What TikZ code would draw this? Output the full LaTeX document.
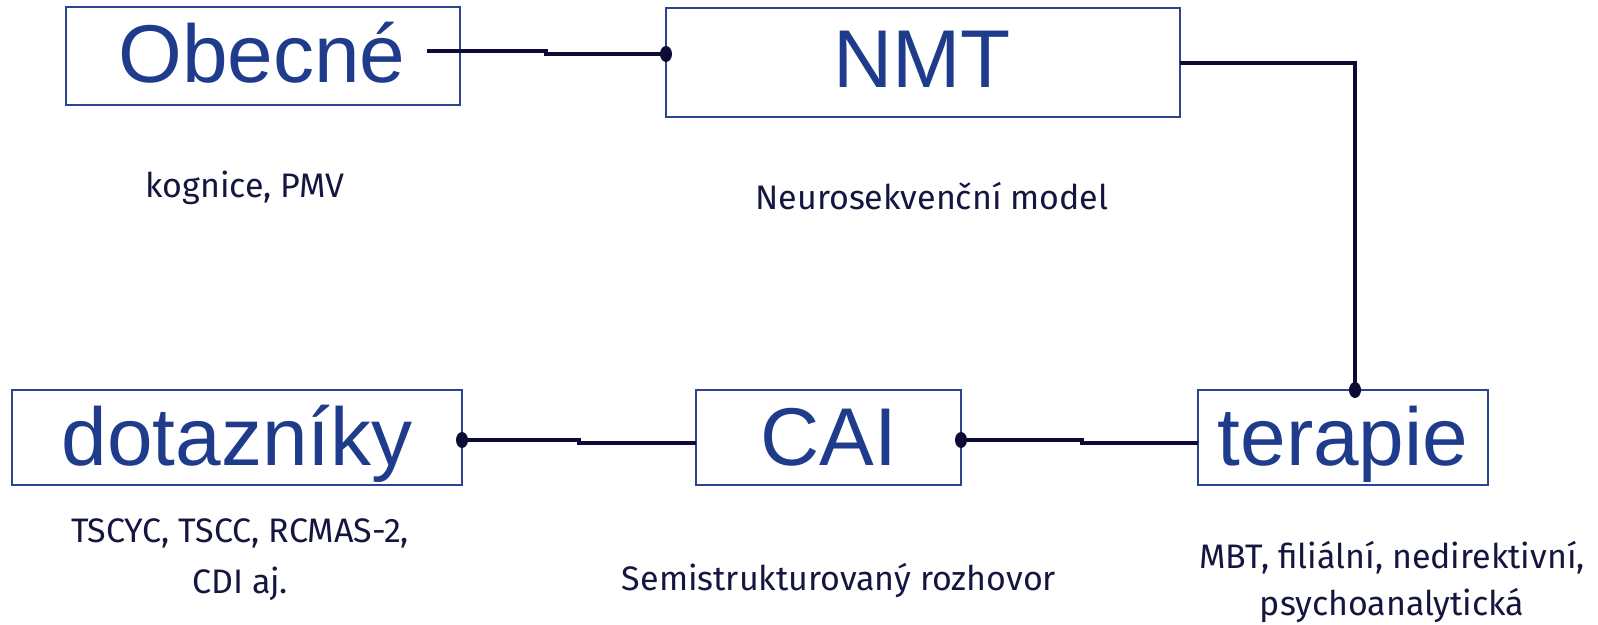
\documentclass[tikz,border=0pt]{standalone}
\usepackage{fontspec}
\setmainfont{Liberation Sans}
\newfontfamily\smallfont{Fira Sans}
\definecolor{boxblue}{HTML}{2B4592}
\definecolor{bigtext}{HTML}{1F3C8C}
\definecolor{navy}{HTML}{0B0B35}
\definecolor{smalltext}{HTML}{14163F}
\begin{document}
\begin{tikzpicture}[x=1pt,y=-1pt,
  box/.style={draw=boxblue,line width=1.8pt,rectangle,inner sep=0pt},
  big/.style={anchor=base,text=bigtext,font=\fontsize{82}{90}\selectfont,inner sep=0pt},
  small/.style={anchor=base,text=smalltext,font=\smallfont\fontsize{34}{40}\selectfont,inner sep=0pt},
  conn/.style={draw=navy,line width=3.4pt},
  dotend/.style={fill=navy}]
\useasboundingbox (0,0) rectangle (1598,624);
% boxes
\node[box,minimum width=394pt,minimum height=98pt] (obecne) at (263,56) {};
\node[box,minimum width=514pt,minimum height=109pt] (nmt) at (923,62.5) {};
\node[box,minimum width=450pt,minimum height=95pt] (dotazniky) at (237,437.5) {};
\node[box,minimum width=265pt,minimum height=95pt] (cai) at (828.5,437.5) {};
\node[box,minimum width=290pt,minimum height=95pt] (terapie) at (1343,437.5) {};
% big texts
\node[big] (tobecne) at (262,82) {Obecné};
\node[big] (tnmt) at (922,87) {NMT};
\node[big] (tdot) at (237,465) {dotazníky};
\node[big] (tcai) at (828.5,465) {CAI};
\node[big] (tter) at (1343,465) {terapie};
% small texts
\node[small] (kog) at (245,197) {kognice, PMV};
\node[small] (neuro) at (932,209) {Neurosekvenční model};
\node[small] (ts1) at (240,542) {TSCYC, TSCC, RCMAS-2,};
\node[small] (ts2) at (240,593) {CDI aj.};
\node[small] (semi) at (839,590) {Semistrukturovaný rozhovor};
\node[small] (mbt1) at (1392,568) {MBT, filiální, nedirektivní,};
\node[small] (mbt2) at (1392,615) {psychoanalytická};
% connector coordinates
\coordinate (c1) at (427,51);
\coordinate (c2) at (666,54);
\coordinate (c3) at (1180,63);
\coordinate (c4) at (1355,390);
\coordinate (c5) at (462,440);
\coordinate (c6) at (696,443);
\coordinate (c7) at (961,440);
\coordinate (c8) at (1198,443);
% connectors
\draw[conn] (c1) -- (546,51) -- (546,54) -- (c2);
\fill[dotend] (c2) ellipse (6pt and 8pt);
\draw[conn] (c3) -- (c4 |- c3) -- (c4);
\fill[dotend] (c4) ellipse (6pt and 8pt);
\draw[conn] (c5) -- (579,440) -- (579,443) -- (c6);
\fill[dotend] (c5) ellipse (6pt and 8pt);
\draw[conn] (c7) -- (1082,440) -- (1082,443) -- (c8);
\fill[dotend] (c7) ellipse (6pt and 8pt);
\end{tikzpicture}
\end{document}
